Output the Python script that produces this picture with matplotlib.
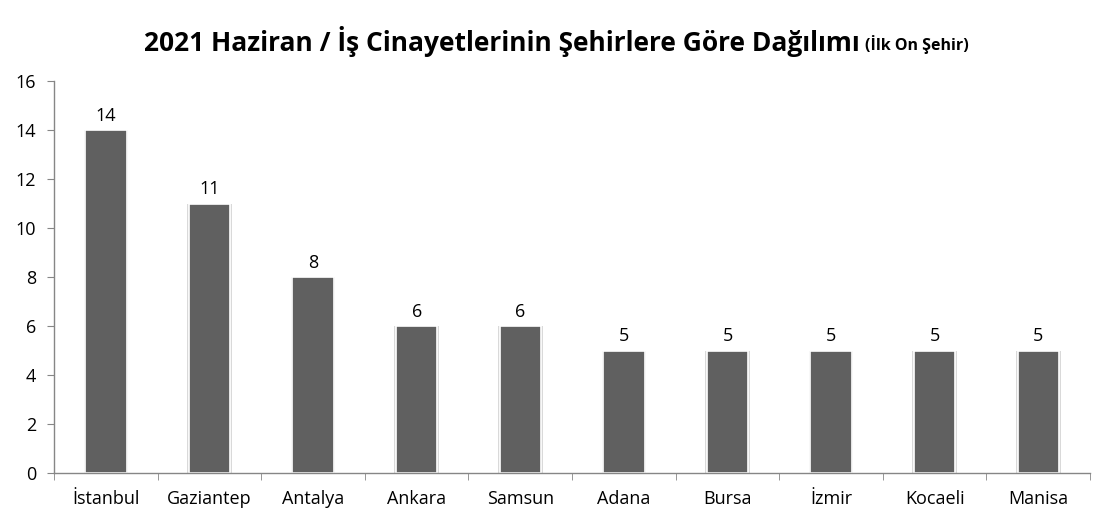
import matplotlib
matplotlib.use("Agg")
import matplotlib.pyplot as plt

cities = ["İstanbul", "Gaziantep", "Antalya", "Ankara", "Samsun",
          "Adana", "Bursa", "İzmir", "Kocaeli", "Manisa"]
counts = [14, 11, 8, 6, 6, 5, 5, 5, 5, 5]
yticks = [0, 2, 4, 6, 8, 10, 12, 14, 16]

plt.rcParams['font.family'] = ['Open Sans', 'DejaVu Sans']

fig = plt.figure(figsize=(11.14, 5.27), dpi=100)
ax = fig.add_axes([0.0485, 0.1025, 0.930, 0.7435])

x = list(range(len(cities)))
# soft shadow behind bars
ax.bar(x, counts, width=0.43, color="#d9d9d9", zorder=1)
ax.bar(x, counts, width=0.40, color="#606060", edgecolor="white", linewidth=1.2, zorder=2)

for xi, v in zip(x, counts):
    ax.text(xi, v + 0.22, str(v), ha="center", va="bottom", fontsize=13, color="black")

ax.set_xlim(-0.5, len(cities) - 0.5)
ax.set_ylim(0, 16)
ax.set_yticks(yticks)
ax.set_xticks(x)
ax.set_xticklabels(cities)
ax.set_xticks([i + 0.5 for i in range(-1, len(cities))], minor=True)

for s in ["top", "right"]:
    ax.spines[s].set_visible(False)
for s in ["left", "bottom"]:
    ax.spines[s].set_color("#868686")
    ax.spines[s].set_linewidth(1)

ax.tick_params(axis="y", direction="out", length=5, color="#868686", labelsize=13, pad=8)
ax.tick_params(axis="x", which="major", length=0, labelsize=13, pad=12)
ax.tick_params(axis="x", which="minor", direction="out", length=5, color="#868686")

t1 = fig.text(0.129, 0.922, "2021 Haziran / İş Cinayetlerinin Şehirlere Göre Dağılımı",
              ha="left", va="center", fontsize=19, fontweight="bold")
fig.canvas.draw()
bb = t1.get_window_extent()
fig.text(bb.x1 / fig.bbox.width + 0.005, 0.916, "(İlk On Şehir)",
         ha="left", va="center", fontsize=11.5, fontweight="bold")

fig.savefig("out.png", dpi=100)
